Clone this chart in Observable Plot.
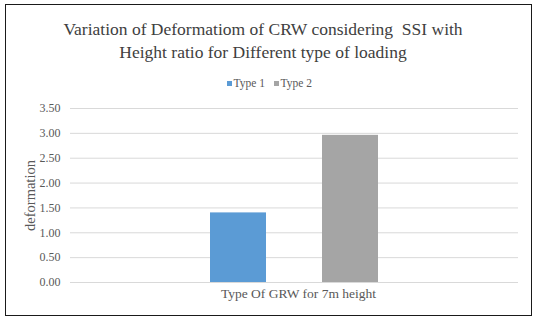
<!DOCTYPE html>
<html><head><meta charset="utf-8">
<script src="https://cdn.jsdelivr.net/npm/d3@7"></script>
<script src="https://cdn.jsdelivr.net/npm/@observablehq/plot@0.6"></script>
<style>
body{margin:0;background:#fff;font-family:'Liberation Serif', serif;}
#wrap{position:relative;width:537px;height:321px;overflow:hidden;background:#fff;font-family:'Liberation Serif', serif;}
#frame{position:absolute;left:5px;top:4px;width:527px;height:312px;border:1.5px solid #1a1a1a;box-sizing:border-box;pointer-events:none;}
#title{position:absolute;left:0;width:526px;top:18px;text-align:center;font-size:17.5px;line-height:22.5px;color:#404040;font-family:'Liberation Serif', serif;}
#legend{position:absolute;left:0;width:538px;top:76px;text-align:center;font-size:11.5px;color:#595959;line-height:14px;font-family:'Liberation Serif', serif;}
#legend span.item{margin:0 4px 0 5px;}
#legend span.sw{display:inline-block;width:5px;height:5px;margin-right:1.5px;vertical-align:1px;}
#chart{position:absolute;left:0;top:95px;}
#chart svg text{font-family:'Liberation Serif', serif;}
#chart g[aria-label="y-axis label"] text{font-size:14.5px;}
</style></head>
<body>
<div id="wrap">
  <div id="title">Variation of Deformatiom of CRW considering&nbsp; SSI with<br>Height ratio for Different type of loading</div>
  <div id="legend"></div>
  <div id="chart"></div>
  <div id="frame"></div>
</div>
<script>
const category = ["Type Of GRW for 7m height"];
const series = ["Type 1", "Type 2"];
const values = [1.40, 2.96];
const colors = ["#5B9BD5", "#A5A5A5"];
const yTicks = [0, 0.5, 1.0, 1.5, 2.0, 2.5, 3.0, 3.5];

const data = series.map((s, i) => ({category: category[0], series: s, value: values[i]}));

const legend = document.getElementById("legend");
series.forEach((s, i) => {
  const item = document.createElement("span");
  item.className = "item";
  const sw = document.createElement("span");
  sw.className = "sw";
  sw.style.background = colors[i];
  item.appendChild(sw);
  item.appendChild(document.createTextNode(s));
  legend.appendChild(item);
});

const chart = Plot.plot({
  width: 537,
  height: 226,
  marginTop: 13,
  marginBottom: 39,
  marginLeft: 70,
  marginRight: 19,
  style: {fontFamily: "'Liberation Serif', serif", fontSize: "12px", color: "#595959", background: "transparent"},
  fx: {domain: category, padding: 0, label: null},
  x: {domain: series, paddingInner: 0.5, paddingOuter: 1.25, axis: null},
  y: {domain: [0, 3.5]},
  color: {domain: series, range: colors},
  marks: [
    Plot.ruleY(yTicks, {stroke: "#d9d9d9", strokeWidth: 1}),
    Plot.barY(data, {fx: "category", x: "series", y: "value", fill: "series"}),
    Plot.axisY({ticks: yTicks, tickFormat: d3.format(".2f"), tickSize: 0, tickPadding: 10, fontSize: 12,
      label: "deformation", labelAnchor: "center", labelArrow: "none", labelOffset: 46}),
    Plot.axisFx({anchor: "bottom", tickSize: 0, tickPadding: 6, fontSize: 13.5, dx: 4, label: null})
  ]
});
document.getElementById("chart").appendChild(chart);
</script>
</body></html>
